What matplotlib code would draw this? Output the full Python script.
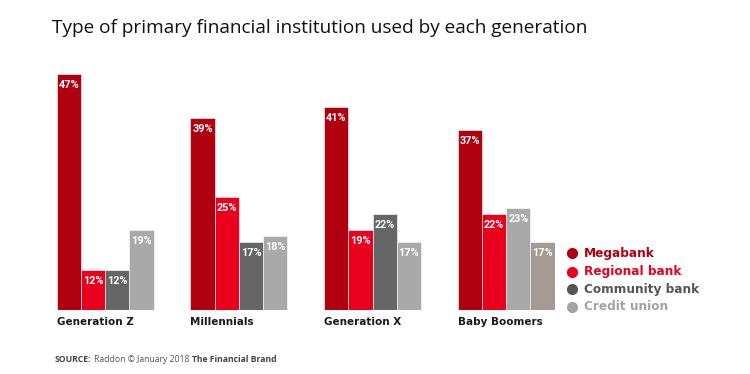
import matplotlib
matplotlib.use('Agg')
import matplotlib.pyplot as plt
from matplotlib.lines import Line2D
import numpy as np

# ==========================================
# Data
# ==========================================
generations = ['Generation Z', 'Millennials', 'Generation X', 'Baby Boomers']
institutions = ['Megabank', 'Regional bank', 'Community bank', 'Credit union']

megabank = [47, 39, 41, 37]
regional = [12, 25, 19, 22]
community = [12, 17, 22, 23]
credit_union = [19, 18, 17, 17]

series = [megabank, regional, community, credit_union]

# bar colours (the Baby Boomers group uses different greys in the original)
bar_colors = [
    ['#b0000f', '#b0000f', '#b0000f', '#b0000f'],
    ['#e8001c', '#e8001c', '#e8001c', '#e8001c'],
    ['#666666', '#666666', '#666666', '#a9a9a9'],
    ['#a9a9a9', '#a9a9a9', '#a9a9a9', '#a69a94'],
]
legend_colors = ['#b0000f', '#e8001c', '#555555', '#a3a3a3']

# ==========================================
# Figure
# ==========================================
W, H = 750, 374
fig = plt.figure(figsize=(W / 100, H / 100), dpi=100)
fig.patch.set_facecolor('white')

ax_left, ax_right = 56.7, 554.7
ax_bottom, ax_top = 310, 60
ax = fig.add_axes([ax_left / W, (H - ax_bottom) / H,
                   (ax_right - ax_left) / W, (ax_bottom - ax_top) / H])

w = 0.181
x = np.arange(len(generations))
for i, vals in enumerate(series):
    pos = x + (i - 1.5) * w
    bars = ax.bar(pos, vals, width=w, color=bar_colors[i],
                  edgecolor='#ffffff', linewidth=0.4)
    for xp, v in zip(pos, vals):
        ax.annotate(f'{v}%', xy=(xp, v), xytext=(0, -7.8),
                    textcoords='offset points', ha='center', va='center',
                    color='white', fontsize=7.8, family='Roboto',
                    fontweight='bold')

ax.set_xlim(-2 * w, len(generations) - 1 + 2 * w)
ax.set_ylim(4.8, 4.8 + 250 / 5.6)
ax.axis('off')

for i, g in enumerate(generations):
    ax.text(i - 2 * w, -0.048, g, transform=ax.get_xaxis_transform(),
            ha='left', va='center', fontsize=7.5, fontweight='bold',
            color='#1a1a1a', family='DejaVu Sans')

# title
fig.text(52 / W, 1 - 28 / H, 'Type of primary financial institution used by each generation',
         ha='left', va='center', fontsize=13.7, family='Open Sans', color='#111111')

# legend
leg_y = [253, 271.5, 289.3, 306.7]
for name, c, yy in zip(institutions, legend_colors, leg_y):
    fig.add_artist(Line2D([571.7 / W], [1 - yy / H], marker='o', markersize=7,
                          color=c, linestyle='none', transform=fig.transFigure))
    fig.text(584 / W, 1 - yy / H, name, ha='left', va='center', fontsize=8.7,
             fontweight='bold', color=c, family='DejaVu Sans')

# source line
src = fig.text(55 / W, 1 - 359 / H, 'SOURCE:', ha='left', va='center',
               fontsize=6.2, fontweight='bold', color='#444444', family='Open Sans')
fig.canvas.draw()
r = fig.canvas.get_renderer()
bb = src.get_window_extent(r)
t2 = fig.text(bb.x1 / W + 2 / W, 1 - 359 / H, 'Raddon \u00a9 January 2018', ha='left',
              va='center', fontsize=6.2, color='#555555', family='Open Sans')
bb2 = t2.get_window_extent(r)
fig.text(bb2.x1 / W + 3 / W, 1 - 359 / H, 'The Financial Brand', ha='left', va='center',
         fontsize=6.2, fontweight='bold', color='#444444', family='Open Sans')

fig.savefig('out.png', dpi=100, facecolor='white')
